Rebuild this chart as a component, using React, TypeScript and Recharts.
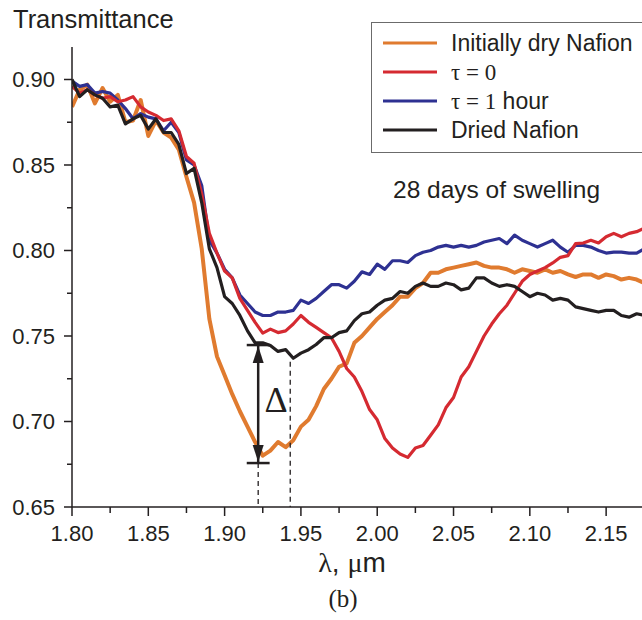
import React from 'react';
import { LineChart, Line, XAxis, YAxis, ReferenceLine, ReferenceDot, Legend } from 'recharts';

const LAMBDA = [
  1.800, 1.805, 1.810, 1.815, 1.820, 1.825, 1.830, 1.835, 1.840, 1.845,
  1.850, 1.855, 1.860, 1.865, 1.870, 1.875, 1.880, 1.885, 1.890, 1.895,
  1.900, 1.905, 1.910, 1.915, 1.920, 1.925, 1.930, 1.935, 1.940, 1.945,
  1.950, 1.955, 1.960, 1.965, 1.970, 1.975, 1.980, 1.985, 1.990, 1.995,
  2.000, 2.005, 2.010, 2.015, 2.020, 2.025, 2.030, 2.035, 2.040, 2.045,
  2.050, 2.055, 2.060, 2.065, 2.070, 2.075, 2.080, 2.085, 2.090, 2.095,
  2.100, 2.105, 2.110, 2.115, 2.120, 2.125, 2.130, 2.135, 2.140, 2.145,
  2.150, 2.155, 2.160, 2.165, 2.170, 2.175,
];

const INITIALLY_DRY = [
  0.884, 0.894, 0.897, 0.886, 0.895, 0.887, 0.891, 0.875, 0.876, 0.888,
  0.867, 0.876, 0.869, 0.866, 0.859, 0.843, 0.828, 0.801, 0.760, 0.738,
  0.727, 0.716, 0.706, 0.697, 0.688, 0.680, 0.683, 0.688, 0.685, 0.689,
  0.697, 0.701, 0.709, 0.719, 0.725, 0.732, 0.734, 0.746, 0.750, 0.755,
  0.760, 0.764, 0.768, 0.773, 0.773, 0.778, 0.781, 0.787, 0.787, 0.789,
  0.790, 0.791, 0.792, 0.793, 0.791, 0.790, 0.790, 0.789, 0.787, 0.789,
  0.788, 0.787, 0.789, 0.787, 0.788, 0.786, 0.7845, 0.786, 0.786, 0.784,
  0.786, 0.785, 0.783, 0.784, 0.783, 0.781,
];

const TAU_0 = [
  0.896, 0.892, 0.894, 0.891, 0.889, 0.890, 0.887, 0.888, 0.890, 0.884,
  0.881, 0.879, 0.876, 0.877, 0.870, 0.855, 0.851, 0.833, 0.810, 0.7985,
  0.788, 0.784, 0.772, 0.765, 0.758, 0.7517, 0.754, 0.752, 0.753, 0.757,
  0.762, 0.758, 0.755, 0.752, 0.749, 0.741, 0.731, 0.726, 0.7175, 0.707,
  0.701, 0.690, 0.6845, 0.681, 0.679, 0.6845, 0.686, 0.692, 0.698, 0.708,
  0.714, 0.726, 0.732, 0.741, 0.750, 0.757, 0.763, 0.768, 0.775, 0.782,
  0.786, 0.788, 0.790, 0.7927, 0.796, 0.797, 0.804, 0.8044, 0.806, 0.8044,
  0.808, 0.810, 0.808, 0.810, 0.811, 0.813,
];

const TAU_1H = [
  0.899, 0.896, 0.897, 0.892, 0.893, 0.892, 0.888, 0.883, 0.877, 0.880,
  0.878, 0.877, 0.870, 0.875, 0.869, 0.853, 0.850, 0.838, 0.806, 0.7985,
  0.789, 0.784, 0.774, 0.769, 0.764, 0.762, 0.762, 0.764, 0.764, 0.765,
  0.771, 0.769, 0.772, 0.776, 0.780, 0.780, 0.778, 0.782, 0.7875, 0.786,
  0.792, 0.789, 0.794, 0.794, 0.793, 0.797, 0.799, 0.800, 0.802, 0.803,
  0.802, 0.803, 0.802, 0.803, 0.805, 0.806, 0.807, 0.804, 0.809, 0.806,
  0.804, 0.802, 0.804, 0.806, 0.802, 0.799, 0.803, 0.803, 0.802, 0.800,
  0.7985, 0.799, 0.799, 0.7985, 0.7985, 0.801,
];

const DRIED = [
  0.900, 0.890, 0.894, 0.891, 0.889, 0.884, 0.885, 0.874, 0.877, 0.879,
  0.871, 0.877, 0.869, 0.869, 0.862, 0.845, 0.848, 0.828, 0.801, 0.790,
  0.773, 0.769, 0.762, 0.753, 0.746, 0.746, 0.7445, 0.741, 0.742, 0.737,
  0.740, 0.742, 0.745, 0.749, 0.749, 0.752, 0.753, 0.759, 0.763, 0.764,
  0.768, 0.771, 0.772, 0.776, 0.775, 0.779, 0.781, 0.779, 0.779, 0.781,
  0.780, 0.777, 0.778, 0.784, 0.784, 0.781, 0.779, 0.780, 0.779, 0.776,
  0.773, 0.775, 0.774, 0.771, 0.772, 0.771, 0.767, 0.766, 0.765, 0.764,
  0.765, 0.765, 0.762, 0.761, 0.763, 0.762,
];

const X_TICKS = [1.8, 1.825, 1.85, 1.875, 1.9, 1.925, 1.95, 1.975, 2.0, 2.025, 2.05, 2.075, 2.1, 2.125, 2.15];
const Y_TICKS = [0.65, 0.675, 0.7, 0.725, 0.75, 0.775, 0.8, 0.825, 0.85, 0.875, 0.9];

// annotation values (data units)
const DELTA_X = 1.922;
const DELTA_TOP = 0.7447;
const DELTA_BOTTOM = 0.6757;
const DASH2_X = 1.943;
const DASH2_TOP = 0.735;
const CAP_HALF = 0.0075;
const DELTA_LABEL_X = 1.9337;
const DELTA_LABEL_Y = 0.7126;

const COLORS = {
  dry: '#E07B2F',
  t0: '#D52A31',
  t1: '#2E3192',
  dried: '#231F20',
};

const SANS = '"Liberation Sans", Arial, Helvetica, sans-serif';
const SERIF = '"Liberation Serif", "Times New Roman", serif';
const INK = '#231F20';

const data = LAMBDA.map((l, i) => ({
  lambda: l,
  dry: INITIALLY_DRY[i],
  t0: TAU_0[i],
  t1: TAU_1H[i],
  dried: DRIED[i],
}));

const isMajor = (v: number, step: number) => Math.abs(v / step - Math.round(v / step)) < 1e-6;

const XTick = (props: any) => {
  const { x, y, payload } = props;
  const axisY = y - 18;
  const major = isMajor(payload.value, 0.05);
  return (
    <g>
      <line x1={x} x2={x} y1={axisY} y2={axisY + (major ? 9 : 6)} stroke={INK} strokeWidth={1.5} />
      {major && (
        <text x={x} y={y} dy="0.71em" textAnchor="middle" fontFamily={SANS} fontSize={22} fill={INK}>
          {payload.value.toFixed(2)}
        </text>
      )}
    </g>
  );
};

const YTick = (props: any) => {
  const { x, y, payload } = props;
  const axisX = x + 17;
  const major = isMajor(payload.value, 0.05);
  return (
    <g>
      <line x1={axisX} x2={axisX - (major ? 8 : 5)} y1={y} y2={y} stroke={INK} strokeWidth={1.5} />
      {major && (
        <text x={x} y={y} dy="0.355em" textAnchor="end" fontFamily={SANS} fontSize={22} fill={INK}>
          {payload.value.toFixed(2)}
        </text>
      )}
    </g>
  );
};

const legendRows = [
  { key: 'dry', color: COLORS.dry, label: [{ t: 'Initially dry Nafion', f: SANS }] },
  { key: 't0', color: COLORS.t0, label: [{ t: 'τ = 0', f: SERIF }] },
  { key: 't1', color: COLORS.t1, label: [{ t: 'τ = 1', f: SERIF }, { t: ' hour', f: SANS }] },
  { key: 'dried', color: COLORS.dried, label: [{ t: 'Dried Nafion', f: SANS }] },
];

const renderLegend = () => (
  <svg width={272} height={131} style={{ display: 'block' }}>
    <rect x={0.5} y={0.5} width={280} height={130} fill="#fff" stroke="#6b6b6b" strokeWidth={1} />
    {legendRows.map((r, i) => {
      const cy = 21 + i * 29;
      return (
        <g key={r.key}>
          <line x1={12} x2={66} y1={cy} y2={cy} stroke={r.color} strokeWidth={3.2} />
          <text x={80} y={cy + 8} fontSize={23} fill={INK} xmlSpace="preserve">
            {r.label.map((s, j) => (
              <tspan key={j} fontFamily={s.f}>{s.t}</tspan>
            ))}
          </text>
        </g>
      );
    })}
  </svg>
);

const arrowUp = (props: any) => {
  const { cx, cy } = props;
  return <path d={`M${cx},${cy + 1} L${cx - 5.5},${cy + 18} L${cx + 5.5},${cy + 18} Z`} fill={INK} />;
};
const arrowDown = (props: any) => {
  const { cx, cy } = props;
  return <path d={`M${cx},${cy - 1} L${cx - 5.5},${cy - 18} L${cx + 5.5},${cy - 18} Z`} fill={INK} />;
};
const deltaLabel = (props: any) => {
  const { cx, cy } = props;
  return (
    <text x={cx} y={cy + 12} textAnchor="middle" fontFamily={SERIF} fontSize={36} fill={INK}>
      Δ
    </text>
  );
};

export default function App() {
  return (
    <div style={{ position: 'absolute', left: 0, top: 0, width: 642, height: 620, background: '#fff' }}>
      <LineChart width={642} height={620} data={data} margin={{ top: 47, right: 0, left: 0, bottom: 83 }}>
        <XAxis
          dataKey="lambda"
          type="number"
          domain={[1.8, 2.1735]}
          allowDataOverflow
          ticks={X_TICKS}
          interval={0}
          tickSize={9}
          tickMargin={9}
          tickLine={false}
          tick={<XTick />}
          axisLine={{ stroke: INK, strokeWidth: 1.5 }}
          height={30}
        />
        <YAxis
          type="number"
          domain={[0.65, 0.919]}
          allowDataOverflow
          ticks={Y_TICKS}
          interval={0}
          tickSize={8}
          tickMargin={9}
          tickLine={false}
          tick={<YTick />}
          axisLine={{ stroke: INK, strokeWidth: 1.5 }}
          width={72}
        />
        <Legend
          layout="vertical"
          align="center"
          verticalAlign="middle"
          content={renderLegend}
          wrapperStyle={{ position: 'absolute', left: 371, top: 22, width: 272, height: 131 }}
        />
        <Line type="linear" dataKey="dry" stroke={COLORS.dry} strokeWidth={4} dot={false} isAnimationActive={false} strokeLinejoin="round" />
        <Line type="linear" dataKey="t1" stroke={COLORS.t1} strokeWidth={3.2} dot={false} isAnimationActive={false} strokeLinejoin="round" />
        <Line type="linear" dataKey="t0" stroke={COLORS.t0} strokeWidth={3.2} dot={false} isAnimationActive={false} strokeLinejoin="round" />
        <Line type="linear" dataKey="dried" stroke={COLORS.dried} strokeWidth={3.2} dot={false} isAnimationActive={false} strokeLinejoin="round" />

        <ReferenceLine segment={[{ x: DELTA_X, y: DELTA_BOTTOM }, { x: DELTA_X, y: 0.65 }]} stroke={INK} strokeWidth={1.3} strokeDasharray="5 4" />
        <ReferenceLine segment={[{ x: DASH2_X, y: DASH2_TOP }, { x: DASH2_X, y: 0.65 }]} stroke={INK} strokeWidth={1.3} strokeDasharray="5 4" />
        <ReferenceLine segment={[{ x: DELTA_X, y: DELTA_TOP }, { x: DELTA_X, y: DELTA_BOTTOM }]} stroke={INK} strokeWidth={2.5} />
        <ReferenceLine segment={[{ x: DELTA_X - CAP_HALF, y: DELTA_TOP }, { x: DELTA_X + CAP_HALF, y: DELTA_TOP }]} stroke={INK} strokeWidth={2.5} />
        <ReferenceLine segment={[{ x: DELTA_X - CAP_HALF, y: DELTA_BOTTOM }, { x: DELTA_X + CAP_HALF, y: DELTA_BOTTOM }]} stroke={INK} strokeWidth={2.5} />
        <ReferenceDot x={DELTA_X} y={DELTA_TOP} shape={arrowUp} />
        <ReferenceDot x={DELTA_X} y={DELTA_BOTTOM} shape={arrowDown} />
        <ReferenceDot x={DELTA_LABEL_X} y={DELTA_LABEL_Y} shape={deltaLabel} />
      </LineChart>
      <svg width={642} height={620} style={{ position: 'absolute', left: 0, top: 0, pointerEvents: 'none' }}>
        <text x={13} y={27.5} fontFamily={SANS} fontSize={25.5} fill={INK}>Transmittance</text>
        <text x={393} y={198} fontFamily={SANS} fontSize={24.5} fill={INK}>28 days of swelling</text>
        <text x={352} y={572} textAnchor="middle" fontSize={28} fill={INK} xmlSpace="preserve">
          <tspan fontFamily={SERIF}>λ</tspan>
          <tspan fontFamily={SANS}>, </tspan>
          <tspan fontFamily={SERIF}>μ</tspan>
          <tspan fontFamily={SANS}>m</tspan>
        </text>
        <text x={343} y={607} textAnchor="middle" fontFamily={SERIF} fontSize={25} fill={INK}>(b)</text>
      </svg>
    </div>
  );
}
